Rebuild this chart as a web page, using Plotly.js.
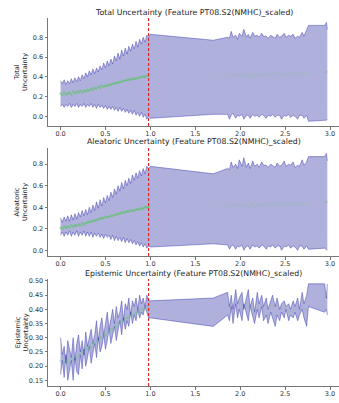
<!DOCTYPE html>
<html>
<head>
<meta charset="utf-8">
<script src="https://cdn.plot.ly/plotly-3.0.1.min.js"></script>
<style>html,body{margin:0;padding:0;background:#fff;}#chart{width:339px;height:403px;}</style>
</head>
<body>
<div id="chart"></div>
<script>
// Feature values (x) — dense training region then sparse extrapolation region
const feature_x = [
 0.00,0.02,0.04,0.06,0.08,0.10,0.12,0.14,0.16,0.18,0.20,0.22,0.24,0.26,0.28,0.30,0.32,0.34,0.36,0.38,
 0.40,0.42,0.44,0.46,0.48,0.50,0.52,0.54,0.56,0.58,0.60,0.62,0.64,0.66,0.68,0.70,0.72,0.74,0.76,0.78,
 0.80,0.82,0.84,0.86,0.88,0.90,0.92,0.94,0.96,0.98,
 1.00,1.70,1.86,1.88,1.90,1.92,1.95,1.97,1.99,2.02,2.04,2.07,2.09,2.11,2.14,2.16,2.19,2.21,2.24,2.26,
 2.29,2.31,2.34,2.36,2.39,2.41,2.44,2.46,2.49,2.51,2.54,2.56,2.59,2.61,2.64,2.66,2.69,2.71,2.74,2.76,
 2.94,2.96,2.97
];
const train_limit = 0.98;
const x_ticks = [0.0,0.5,1.0,1.5,2.0,2.5,3.0];

// Total uncertainty
const total_upper = [
 0.36,0.33,0.37,0.32,0.36,0.33,0.38,0.34,0.39,0.35,0.40,0.36,0.42,0.38,0.44,0.40,0.46,0.42,0.48,0.43,
 0.49,0.45,0.51,0.47,0.54,0.49,0.56,0.51,0.58,0.53,0.61,0.56,0.64,0.58,0.67,0.61,0.69,0.63,0.71,0.66,
 0.73,0.68,0.76,0.70,0.78,0.73,0.80,0.75,0.82,0.80,
 0.83,0.77,0.80,0.79,0.86,0.80,0.82,0.78,0.84,0.81,0.88,0.80,0.83,0.79,0.85,0.81,0.82,0.80,0.84,0.81,
 0.81,0.79,0.82,0.81,0.79,0.83,0.80,0.81,0.84,0.80,0.82,0.81,0.83,0.79,0.81,0.80,0.85,0.81,0.88,0.92,
 0.92,0.95,0.88
];
const total_lower = [
 0.10,0.12,0.09,0.12,0.10,0.13,0.09,0.12,0.10,0.13,0.09,0.12,0.10,0.13,0.09,0.12,0.10,0.13,0.09,0.12,
 0.08,0.12,0.09,0.11,0.08,0.11,0.07,0.10,0.07,0.10,0.06,0.09,0.05,0.09,0.05,0.08,0.04,0.07,0.03,0.06,
 0.02,0.06,0.01,0.04,0.00,0.04,-0.01,0.02,-0.03,0.00,
 -0.02,0.02,0.02,-0.03,0.01,0.03,-0.02,0.01,0.00,0.02,-0.03,0.01,0.01,-0.02,0.02,0.00,0.01,-0.01,0.02,0.01,
 -0.02,0.01,0.00,0.02,-0.01,0.01,0.01,-0.03,0.01,0.00,0.02,-0.01,0.01,0.00,-0.03,0.01,0.01,-0.02,0.01,-0.05,
 -0.04,-0.04,-0.03
];
const total_mean = [
 0.23,0.22,0.24,0.22,0.23,0.24,0.22,0.25,0.23,0.25,0.24,0.26,0.24,0.26,0.25,0.27,0.26,0.28,0.27,0.29,
 0.28,0.30,0.29,0.31,0.30,0.31,0.31,0.32,0.32,0.33,0.33,0.34,0.34,0.35,0.35,0.36,0.36,0.37,0.37,0.37,
 0.38,0.38,0.38,0.39,0.39,0.40,0.40,0.40,0.41,0.41,
 0.41,0.42,0.41,0.43,0.40,0.42,0.41,0.43,0.42,0.41,0.43,0.42,0.40,0.42,0.43,0.41,0.42,0.43,0.41,0.42,
 0.43,0.42,0.41,0.43,0.42,0.44,0.42,0.43,0.41,0.42,0.43,0.42,0.44,0.43,0.42,0.44,0.43,0.42,0.44,0.44,
 0.45,0.45,0.45
];

// Aleatoric uncertainty
const alea_upper = [
 0.30,0.26,0.31,0.27,0.32,0.27,0.33,0.28,0.34,0.29,0.35,0.31,0.37,0.32,0.38,0.33,0.40,0.35,0.42,0.37,
 0.45,0.39,0.47,0.41,0.49,0.44,0.51,0.46,0.54,0.49,0.57,0.52,0.60,0.55,0.63,0.57,0.65,0.60,0.67,0.62,
 0.70,0.65,0.72,0.67,0.74,0.69,0.76,0.71,0.78,0.76,
 0.78,0.71,0.76,0.75,0.82,0.77,0.80,0.76,0.84,0.78,0.86,0.77,0.81,0.76,0.83,0.78,0.80,0.77,0.82,0.79,
 0.79,0.77,0.80,0.79,0.77,0.81,0.78,0.79,0.83,0.78,0.80,0.79,0.82,0.77,0.79,0.78,0.84,0.79,0.82,0.87,
 0.87,0.90,0.83
];
const alea_lower = [
 0.14,0.17,0.13,0.17,0.14,0.18,0.13,0.17,0.14,0.18,0.13,0.17,0.14,0.18,0.13,0.17,0.13,0.17,0.12,0.16,
 0.13,0.16,0.12,0.15,0.11,0.15,0.12,0.14,0.10,0.14,0.09,0.13,0.09,0.12,0.08,0.12,0.07,0.11,0.07,0.10,
 0.06,0.09,0.05,0.08,0.04,0.07,0.03,0.06,0.02,0.04,
 0.03,0.06,0.05,0.01,0.04,0.05,0.01,0.04,0.03,0.05,0.00,0.04,0.04,0.01,0.05,0.03,0.04,0.02,0.05,0.04,
 0.01,0.04,0.03,0.05,0.02,0.04,0.04,0.00,0.04,0.03,0.05,0.02,0.04,0.03,0.00,0.04,0.04,0.01,0.04,0.01,
 0.02,0.01,0.00
];
const alea_mean = [
 0.21,0.20,0.22,0.21,0.22,0.21,0.23,0.22,0.23,0.23,0.24,0.23,0.25,0.24,0.25,0.26,0.26,0.27,0.27,0.28,
 0.28,0.29,0.29,0.30,0.30,0.31,0.31,0.31,0.32,0.32,0.33,0.33,0.34,0.34,0.35,0.35,0.35,0.36,0.36,0.37,
 0.37,0.37,0.38,0.38,0.38,0.39,0.39,0.40,0.40,0.40,
 0.40,0.41,0.41,0.42,0.40,0.42,0.41,0.43,0.42,0.41,0.42,0.42,0.40,0.42,0.43,0.41,0.42,0.43,0.41,0.42,
 0.43,0.42,0.41,0.43,0.42,0.44,0.42,0.43,0.41,0.42,0.43,0.42,0.44,0.43,0.42,0.44,0.43,0.42,0.44,0.44,
 0.45,0.45,0.45
];

// Epistemic uncertainty
const epi_upper = [
 0.30,0.24,0.27,0.21,0.29,0.26,0.23,0.30,0.22,0.28,0.31,0.25,0.29,0.24,0.32,0.27,0.30,0.33,0.28,0.31,
 0.36,0.29,0.34,0.37,0.31,0.35,0.39,0.33,0.37,0.40,0.35,0.41,0.37,0.39,0.43,0.36,0.42,0.40,0.44,0.38,
 0.43,0.41,0.44,0.40,0.45,0.42,0.44,0.41,0.45,0.43,
 0.43,0.44,0.46,0.41,0.45,0.40,0.47,0.42,0.44,0.46,0.40,0.45,0.47,0.41,0.44,0.39,0.46,0.42,0.45,0.41,
 0.44,0.40,0.43,0.45,0.41,0.44,0.40,0.42,0.43,0.41,0.42,0.40,0.43,0.41,0.44,0.40,0.46,0.42,0.45,0.49,
 0.49,0.44,0.49
];
const epi_lower = [
 0.17,0.22,0.16,0.24,0.15,0.19,0.22,0.15,0.23,0.18,0.17,0.24,0.19,0.26,0.20,0.23,0.27,0.21,0.25,0.28,
 0.23,0.30,0.25,0.27,0.31,0.26,0.29,0.33,0.28,0.31,0.34,0.29,0.33,0.36,0.31,0.37,0.33,0.36,0.34,0.39,
 0.35,0.38,0.36,0.40,0.37,0.39,0.38,0.41,0.39,0.37,
 0.37,0.34,0.38,0.36,0.41,0.35,0.42,0.37,0.40,0.36,0.42,0.38,0.36,0.41,0.37,0.35,0.40,0.37,0.41,0.36,
 0.38,0.35,0.39,0.37,0.34,0.38,0.36,0.39,0.37,0.40,0.36,0.38,0.37,0.39,0.36,0.38,0.40,0.37,0.34,0.41,
 0.39,0.40,0.38
];
const epi_mean = [
 0.22,0.23,0.21,0.22,0.22,0.21,0.23,0.22,0.23,0.23,0.24,0.24,0.25,0.25,0.26,0.26,0.27,0.27,0.28,0.28,
 0.29,0.29,0.30,0.30,0.31,0.31,0.32,0.32,0.33,0.33,0.34,0.34,0.35,0.35,0.36,0.36,0.37,0.37,0.37,0.38,
 0.38,0.38,0.39,0.39,0.39,0.40,0.40,0.40,0.41,0.40,
 0.40,0.39,0.41,0.40,0.42,0.39,0.43,0.40,0.42,0.41,0.41,0.42,0.41,0.40,0.41,0.39,0.42,0.40,0.42,0.39,
 0.41,0.38,0.41,0.41,0.38,0.41,0.38,0.40,0.40,0.41,0.39,0.39,0.40,0.40,0.40,0.39,0.43,0.40,0.40,0.45,
 0.44,0.45,0.44
];

const panel_titles = [
 "Total Uncertainty (Feature PT08.S2(NMHC)_scaled)",
 "Aleatoric Uncertainty (Feature PT08.S2(NMHC)_scaled)",
 "Epistemic Uncertainty (Feature PT08.S2(NMHC)_scaled)"
];
const y_titles = ["Total<br>Uncertainty","Aleatoric<br>Uncertainty","Epistemic<br>Uncertainty"];

const panels = [
 {up: total_upper, lo: total_lower, mean: total_mean},
 {up: alea_upper, lo: alea_lower, mean: alea_mean},
 {up: epi_upper, lo: epi_lower, mean: epi_mean}
];

const FILL = 'rgba(10,10,150,0.32)';
const EDGE = 'rgba(40,40,170,0.42)';
const nDense = feature_x.filter(v => v <= train_limit).length;

const traces = [];
panels.forEach((p, i) => {
  const xa = i === 0 ? 'x' : 'x' + (i + 1);
  const ya = i === 0 ? 'y' : 'y' + (i + 1);
  traces.push({x: feature_x, y: p.lo, xaxis: xa, yaxis: ya, mode: 'lines',
    line: {color: EDGE, width: 1}, hoverinfo: 'skip', showlegend: false});
  traces.push({x: feature_x, y: p.up, xaxis: xa, yaxis: ya, mode: 'lines', fill: 'tonexty',
    fillcolor: FILL, line: {color: EDGE, width: 1}, hoverinfo: 'skip', showlegend: false});
  traces.push({x: feature_x.slice(0, nDense), y: p.mean.slice(0, nDense), xaxis: xa, yaxis: ya,
    mode: 'markers', marker: {color: i === 2 ? 'rgba(90,200,110,0.35)' : 'rgba(60,205,60,0.45)', size: 2.5},
    showlegend: false});
  traces.push({x: feature_x.slice(nDense), y: p.mean.slice(nDense), xaxis: xa, yaxis: ya,
    mode: 'markers', marker: {color: 'rgba(130,200,130,0.3)', size: 2}, showlegend: false});
});

const H = 403;
const boxes = [[18,126],[148,256],[279,386]]; // pixel top/bottom of each panel
const yRanges = [[-0.098,0.995],[-0.053,0.95],[0.13,0.507]];
const yTickFmt = ['.1f','.1f','.2f'];
const yDtick = [0.2,0.2,0.05];

const layout = {
  width: 339, height: 403,
  margin: {l: 48, r: 0, t: 0, b: 0},
  paper_bgcolor: '#fff', plot_bgcolor: '#fff',
  font: {family: 'DejaVu Sans, sans-serif', size: 7, color: '#333'},
  showlegend: false,
  shapes: [], annotations: []
};

boxes.forEach((b, i) => {
  const sx = i === 0 ? '' : String(i + 1);
  const dom = [(H - b[1]) / H, (H - b[0]) / H];
  layout['xaxis' + sx] = {
    domain: [0, 1], anchor: 'y' + sx, range: [-0.14, 3.10],
    tickvals: x_ticks, tickformat: '.1f', showgrid: false, zeroline: false,
    showline: true, linecolor: '#777', linewidth: 1, ticks: 'outside', ticklen: 2.5,
    tickcolor: '#777', tickfont: {size: 6.5, color: '#333'}, ticklabelstandoff: -1
  };
  layout['yaxis' + sx] = {
    domain: dom, anchor: 'x' + sx, range: yRanges[i], dtick: yDtick[i], tickformat: yTickFmt[i],
    showgrid: false, zeroline: false, showline: true, linecolor: '#777', linewidth: 1,
    ticks: 'outside', ticklen: 2.5, tickcolor: '#777', tickfont: {size: 6.5, color: '#333'}
  };
  layout.shapes.push({type: 'line', xref: 'x' + sx, yref: 'y' + sx + ' domain',
    x0: train_limit, x1: train_limit, y0: 0, y1: 1,
    line: {color: '#e02020', width: 1.1, dash: '3px,2px'}});
  layout.annotations.push({text: panel_titles[i], xref: 'paper', yref: 'paper',
    x: 0.5, y: (H - (b[0] - 0.5)) / H, xanchor: 'center', yanchor: 'bottom', showarrow: false,
    borderpad: 0, font: {size: 7.8, color: '#222'}});
  layout.annotations.push({text: y_titles[i], xref: 'paper', yref: 'paper',
    x: (21 - 48) / 291, y: (H - (b[0] + b[1]) / 2) / H, xanchor: 'center', yanchor: 'middle',
    textangle: -90, showarrow: false, font: {size: 6.5, color: '#222'}});
});

Plotly.newPlot('chart', traces, layout, {displayModeBar: false, staticPlot: true});
</script>
</body>
</html>
